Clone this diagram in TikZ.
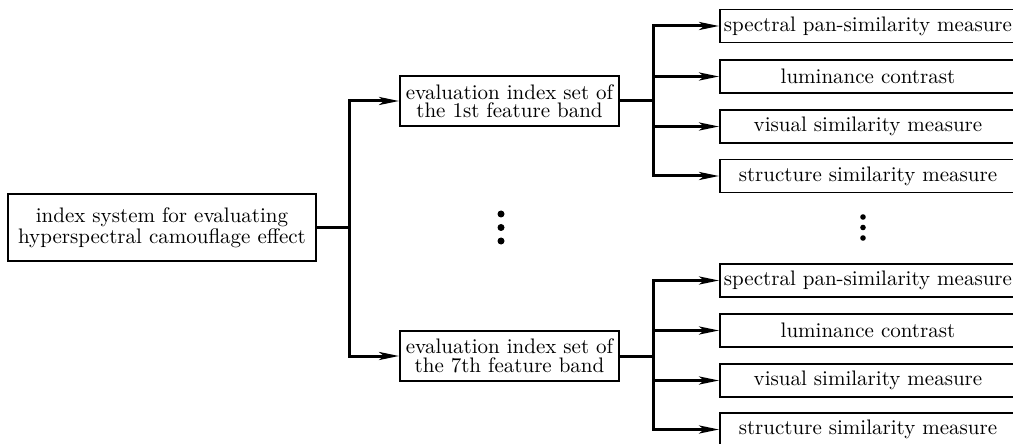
\documentclass[tikz,border=0pt]{standalone}
\usetikzlibrary{arrows.meta}
\begin{document}
\begin{tikzpicture}[x=0.5pt,y=-0.5pt,
    box/.style={draw, line width=0.9pt, inner sep=1pt, align=center,
                font=\fontsize{10.5}{9.2}\selectfont},
    rootbox/.style={box, minimum width=154pt, minimum height=33.5pt},
    bandbox/.style={box, minimum width=109.5pt, minimum height=25pt},
    itembox/.style={box, minimum width=148pt, minimum height=16.5pt},
    link/.style={line width=1.5pt},
    arr/.style={link, -{Stealth[length=10pt,width=4pt,inset=2.5pt]}}]

    % 1. Fix the picture size (one unit = one pixel of the reference)
    \useasboundingbox (0,0) rectangle (1013,444);

    % 2. Root and the two band boxes
    \node[rootbox] (root) at (162,227.5) {index system for evaluating\\hyperspectral camouflage effect};
    \node[bandbox] (b1) at (509.5,101) {evaluation index set of\\the 1st feature band};
    \node[bandbox] (b7) at (509.5,356) {evaluation index set of\\the 7th feature band};

    % 3. Index boxes of the 1st band
    \node[itembox] (s1) at (868,26)    {spectral pan-similarity measure};
    \node[itembox] (s2) at (868,76.5)  {luminance contrast};
    \node[itembox] (s3) at (868,126.5) {visual similarity measure};
    \node[itembox] (s4) at (868,176)   {structure similarity measure};

    % 4. Index boxes of the 7th band
    \node[itembox] (t1) at (868,280.5) {spectral pan-similarity measure};
    \node[itembox] (t2) at (868,330.5) {luminance contrast};
    \node[itembox] (t3) at (868,380.5) {visual similarity measure};
    \node[itembox] (t4) at (868,429.5) {structure similarity measure};

    % 5. Branch points
    \coordinate (J0) at (349,227.5);
    \coordinate (J1) at (653,101);
    \coordinate (J7) at (653,356);

    % 6. Connectors
    \draw[link] (root) -- (J0);
    \draw[arr] (J0) |- (b1);
    \draw[arr] (J0) |- (b7);
    \draw[link] (b1) -- (J1);
    \draw[link] (b7) -- (J7);
    \foreach \n in {1,...,4} {
        \draw[arr] (J1) |- (s\n);
        \draw[arr] (J7) |- (t\n);
    }

    % 7. Dots for the omitted bands
    \foreach \y in {214,227.5,241} \fill (501,\y) circle (3.5);
    \foreach \y in {217,227.5,238} \fill (863,\y) circle (2.8);

\end{tikzpicture}
\end{document}
